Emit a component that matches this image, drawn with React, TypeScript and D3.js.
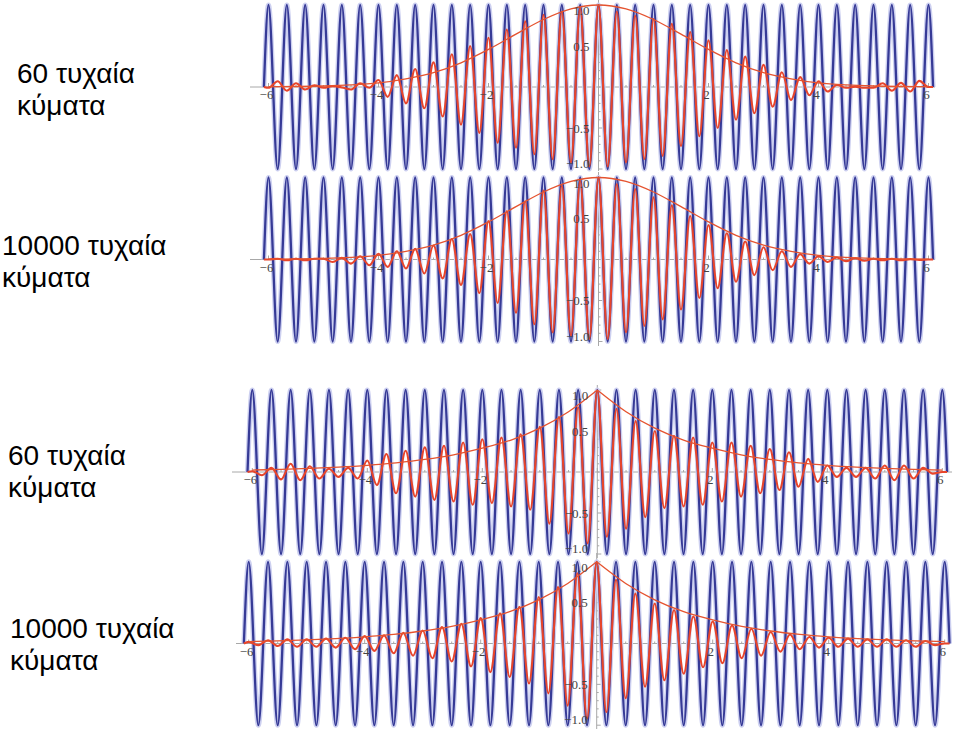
import React from "react";
import * as d3 from "d3";

// ---------- data ----------
const xTickValues = [-6, -4, -2, 2, 4, 6];
const yTickValues = [1.0, 0.5, -0.5, -1.0];
const yTickLabels = ["1.0", "0.5", "\u22120.5", "\u22121.0"];
const panelTitlesLine1 = ["60 τυχαία", "10000 τυχαία", "60 τυχαία", "10000 τυχαία"];
const panelTitlesLine2 = ["κύματα", "κύματα", "κύματα", "κύματα"];

// carrier (blue) extremes, one value every half period (x = -6 .. 6, step 1/6)
const carrierExtremes = [
  1, -1, 1, -1, 1, -1, 1, -1, 1, -1, 1, -1,
  1, -1, 1, -1, 1, -1, 1, -1, 1, -1, 1, -1,
  1, -1, 1, -1, 1, -1, 1, -1, 1, -1, 1, -1,
  1, -1, 1, -1, 1, -1, 1, -1, 1, -1, 1, -1,
  1, -1, 1, -1, 1, -1, 1, -1, 1, -1, 1, -1,
  1, -1, 1, -1, 1, -1, 1, -1, 1, -1, 1, -1,
  1,
];

// envelope samples at x = -6 .. 6, step 0.5
const envelopeX = [-6, -5.5, -5, -4.5, -4, -3.5, -3, -2.5, -2, -1.5, -1, -0.5, 0, 0.5, 1, 1.5, 2, 2.5, 3, 3.5, 4, 4.5, 5, 5.5, 6];
const gaussEnvelope = [0.003, 0.006, 0.012, 0.025, 0.05, 0.1, 0.175, 0.295, 0.458, 0.644, 0.823, 0.952, 1.0, 0.952, 0.823, 0.644, 0.458, 0.295, 0.175, 0.1, 0.05, 0.025, 0.012, 0.006, 0.003];
const expEnvelope = [0.024, 0.032, 0.044, 0.06, 0.082, 0.112, 0.153, 0.21, 0.29, 0.39, 0.535, 0.735, 1.0, 0.735, 0.535, 0.39, 0.29, 0.21, 0.153, 0.112, 0.082, 0.06, 0.044, 0.032, 0.024];

// superposition (red) extremes, one value every half period (x = -6 .. 6, step 1/6)
const sum60Gauss = [
  -0.01, 0.07, -0.045, 0.045, -0.03, 0.02, -0.01, 0.01, -0.005, -0.03, 0.045, -0.01,
  0.085, -0.12, 0.145, -0.2, 0.22, -0.26, 0.3, -0.36, 0.4, -0.46, 0.5, -0.56,
  0.6, -0.68, 0.7, -0.74, 0.8, -0.82, 0.88, -0.88, 0.92, -0.92, 0.96, -0.97,
  1.0, -0.97, 0.92, -0.92, 0.87, -0.88, 0.83, -0.84, 0.77, -0.72, 0.67, -0.6,
  0.57, -0.5, 0.45, -0.4, 0.37, -0.32, 0.27, -0.24, 0.18, -0.16, 0.12, -0.1,
  0.07, -0.055, 0.025, -0.01, 0.005, -0.01, -0.01, 0.045, -0.045, 0.05, -0.055, 0.075,
  0.0,
];
const sum10000Gauss = [
  0.0, 0.01, -0.01, 0.01, -0.01, 0.01, 0.01, -0.03, 0.02, -0.05, 0.04, -0.07,
  0.07, -0.09, 0.1, -0.11, 0.13, -0.17, 0.17, -0.23, 0.25, -0.31, 0.31, -0.41,
  0.47, -0.53, 0.59, -0.65, 0.71, -0.79, 0.84, -0.89, 0.9, -0.93, 0.96, -0.97,
  1.0, -0.97, 0.92, -0.89, 0.86, -0.81, 0.76, -0.73, 0.66, -0.61, 0.53, -0.47,
  0.42, -0.35, 0.32, -0.27, 0.22, -0.19, 0.15, -0.13, 0.1, -0.09, 0.065, -0.05,
  0.04, -0.03, 0.025, -0.02, 0.015, -0.015, 0.01, -0.01, 0.01, -0.01, 0.005, -0.005,
  0.0,
];
const sum60Exp = [
  0.01, -0.04, 0.05, -0.09, 0.1, -0.1, 0.07, -0.08, 0.04, -0.06, 0.05, -0.08,
  0.14, -0.16, 0.22, -0.26, 0.26, -0.3, 0.3, -0.34, 0.32, -0.36, 0.36, -0.4,
  0.4, -0.38, 0.42, -0.42, 0.46, -0.46, 0.55, -0.63, 0.67, -0.75, 0.79, -0.87,
  0.99, -0.79, 0.77, -0.69, 0.62, -0.55, 0.5, -0.44, 0.44, -0.42, 0.42, -0.4,
  0.36, -0.36, 0.36, -0.3, 0.32, -0.26, 0.28, -0.22, 0.24, -0.18, 0.16, -0.12,
  0.08, -0.06, 0.05, -0.06, 0.05, -0.08, 0.08, -0.1, 0.08, -0.08, 0.05, -0.02,
  0.0,
];
const sum10000Exp = [
  0.02, -0.02, 0.04, -0.03, 0.05, -0.04, 0.05, -0.04, 0.06, -0.05, 0.07, -0.07,
  0.09, -0.09, 0.1, -0.12, 0.13, -0.15, 0.16, -0.18, 0.2, -0.22, 0.24, -0.28,
  0.31, -0.35, 0.37, -0.41, 0.45, -0.49, 0.57, -0.61, 0.69, -0.76, 0.86, -0.92,
  1.0, -0.84, 0.78, -0.67, 0.61, -0.53, 0.49, -0.45, 0.41, -0.37, 0.33, -0.29,
  0.27, -0.24, 0.22, -0.18, 0.18, -0.15, 0.14, -0.1, 0.11, -0.07, 0.08, -0.05,
  0.07, -0.04, 0.06, -0.04, 0.05, -0.04, 0.05, -0.04, 0.04, -0.04, 0.03, -0.02,
  0.0,
];

// ---------- layout ----------
const BLUE = "#363a96";
const BLUE_HALO = "#cdd0f0";
const RED = "#e8452b";
const ENV = "#e5532f";
const AXIS = "#a8a8a8";

type Panel = {
  ox: number; k: number; cy: number; amp: number;
  top: number; bottom: number; axL: number; axR: number;
  sum: number[]; env: number[]; cusp: boolean;
  tx: number; ty1: number; ty2: number;
};

const panels: Panel[] = [
  { ox: 598.5, k: 55, cy: 87, amp: 82, top: 0, bottom: 171, axL: 250, axR: 935, sum: sum60Gauss, env: gaussEnvelope, cusp: false, tx: 17, ty1: 83, ty2: 115 },
  { ox: 598.5, k: 55, cy: 259.5, amp: 82, top: 172, bottom: 346, axL: 250, axR: 935, sum: sum10000Gauss, env: gaussEnvelope, cusp: false, tx: 2, ty1: 255, ty2: 287 },
  { ox: 597.3, k: 57.5, cy: 472, amp: 82, top: 385, bottom: 558, axL: 232, axR: 952, sum: sum60Exp, env: expEnvelope, cusp: true, tx: 8, ty1: 465, ty2: 497 },
  { ox: 596.7, k: 58, cy: 643.5, amp: 81.7, top: 553, bottom: 729, axL: 236, axR: 950, sum: sum10000Exp, env: expEnvelope, cusp: true, tx: 10, ty1: 638, ty2: 670 },
];

const halfStepX = d3.range(carrierExtremes.length).map((i) => -6 + i / 6);
const EDGE = 6 + 1 / 12;

function PanelView({ p, idx }: { p: Panel; idx: number }) {
  const x = d3.scaleLinear().domain([-6, 6]).range([p.ox - 6 * p.k, p.ox + 6 * p.k]);
  const y = d3.scaleLinear().domain([-1, 1]).range([p.cy + p.amp, p.cy - p.amp]);
  const line = d3
    .line<[number, number]>()
    .x((d) => x(d[0]))
    .y((d) => y(d[1]))
    .curve(d3.curveMonotoneX);

  const bluePts: [number, number][] = [[-EDGE, 0], ...halfStepX.map((v, i) => [v, carrierExtremes[i]] as [number, number]), [EDGE, 0]];
  const redPts: [number, number][] = [[-EDGE, 0], ...halfStepX.map((v, i) => [v, p.sum[i]] as [number, number]), [EDGE, 0]];
  const envPts: [number, number][] = envelopeX.map((v, i) => [v, p.env[i]]);
  const envPaths = p.cusp
    ? [line(envPts.filter((d) => d[0] <= 0)), line(envPts.filter((d) => d[0] >= 0))]
    : [line(envPts)];

  const minor = d3.range(-10, 11).map((v) => v / 10);
  const xMinor = d3.range(-12, 13).map((v) => v / 2);
  const blueD = line(bluePts) || "";

  const yLabelY = (v: number) => (v === 1 ? y(v) + 10 : v === -1 ? y(v) - 1 : y(v) + 4.5);

  return (
    <g>
      {/* axes */}
      <line x1={p.axL} x2={p.axR} y1={y(0)} y2={y(0)} stroke={AXIS} strokeWidth={1} />
      <line x1={x(0)} x2={x(0)} y1={p.top} y2={p.bottom} stroke={AXIS} strokeWidth={1} />
      {minor.map((v) => (
        <line key={"ym" + v} x1={x(0)} x2={x(0) + (Math.abs(v * 2 - Math.round(v * 2)) < 1e-6 ? 4 : 2)} y1={y(v)} y2={y(v)} stroke={AXIS} strokeWidth={1} />
      ))}
      {xMinor.map((v) => (
        <line key={"xm" + v} x1={x(v)} x2={x(v)} y1={y(0)} y2={y(0) - (v % 2 === 0 ? 4 : 2)} stroke={AXIS} strokeWidth={1} />
      ))}
      {/* carrier */}
      <path d={blueD} fill="none" stroke={BLUE_HALO} strokeWidth={5} strokeLinejoin="round" />
      <path d={blueD} fill="none" stroke={BLUE} strokeWidth={2.3} strokeLinejoin="round" />
      {/* superposition */}
      <path d={line(redPts) || ""} fill="none" stroke={RED} strokeWidth={2.1} strokeLinejoin="round" />
      {/* envelope */}
      {envPaths.map((d, i) => (
        <path key={"env" + i} d={d || ""} fill="none" stroke={ENV} strokeWidth={1.3} />
      ))}
      {/* tick labels */}
      {xTickValues.map((v) => (
        <text key={"xt" + v} x={x(v) - 2} y={y(0) + 12} textAnchor="middle" fontFamily="Liberation Serif, serif" fontSize={13} fill="#444">
          {v < 0 ? "\u2212" + Math.abs(v) : String(v)}
        </text>
      ))}
      {yTickValues.map((v, i) => (
        <text key={"yt" + v} x={x(0) - 9} y={yLabelY(v)} textAnchor="end" fontFamily="Liberation Serif, serif" fontSize={13} fill="#444">
          {yTickLabels[i]}
        </text>
      ))}
      {/* titles */}
      <text x={p.tx} y={p.ty1} fontFamily="Liberation Sans, Arial, sans-serif" fontSize={28} fill="#000">
        {panelTitlesLine1[idx]}
      </text>
      <text x={p.tx} y={p.ty2} fontFamily="Liberation Sans, Arial, sans-serif" fontSize={28} fill="#000">
        {panelTitlesLine2[idx]}
      </text>
    </g>
  );
}

export default function App() {
  return (
    <svg width={960} height={730} style={{ position: "absolute", left: 0, top: 0, background: "#fff" }}>
      <rect x={0} y={0} width={960} height={730} fill="#fff" />
      {panels.map((p, i) => (
        <PanelView key={i} p={p} idx={i} />
      ))}
    </svg>
  );
}
